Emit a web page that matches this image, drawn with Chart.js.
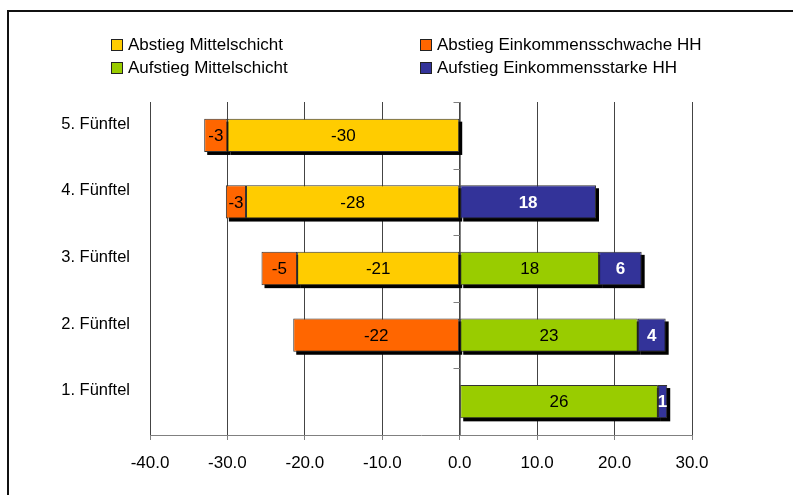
<!DOCTYPE html>
<html>
<head>
<meta charset="utf-8">
<script src="https://cdn.jsdelivr.net/npm/chart.js@4.4.1/dist/chart.umd.min.js"></script>
<style>
  html, body { margin: 0; padding: 0; background: #fff; }
  #wrap { position: relative; width: 793px; height: 495px; overflow: hidden; font-family: "Liberation Sans", Arial, sans-serif; }
  #frame { position: absolute; left: 7px; top: 10px; width: 900px; height: 600px; border-top: 2px solid #111; border-left: 2px solid #111; }
  canvas { position: absolute; left: 0; top: 0; }
  .leg { position: absolute; font-size: 17px; color: #000; line-height: 20px; white-space: nowrap; }
  .leg i { position: absolute; left: -17px; top: 4px; width: 10px; height: 10px; border: 1px solid #222; }
</style>
</head>
<body>
<div id="wrap">
  <div id="frame"></div>
  <canvas id="chart" width="793" height="495"></canvas>
  <div id="legend"></div>
</div>
<script>
const categories = ['5. Fünftel', '4. Fünftel', '3. Fünftel', '2. Fünftel', '1. Fünftel'];

// values per series (null = no bar)
const abstiegMitte = [-30.0, -27.6, -21.0, null, null];
const abstiegSchwach = [-3.0, -2.6, -4.6, -21.5, null];
const aufstiegMitte = [null, null, 18.0, 23.0, 25.6];
const aufstiegStark = [null, 17.6, 5.5, 3.6, 1.2];

const xTicks = [-40, -30, -20, -10, 0, 10, 20, 30];

const series = [
  { label: 'Abstieg Mittelschicht', data: abstiegMitte, color: '#FFCC00', text: '#000', bold: false },
  { label: 'Abstieg Einkommensschwache HH', data: abstiegSchwach, color: '#FF6600', text: '#000', bold: false },
  { label: 'Aufstieg Mittelschicht', data: aufstiegMitte, color: '#99CC00', text: '#000', bold: false },
  { label: 'Aufstieg Einkommensstarke HH', data: aufstiegStark, color: '#333399', text: '#fff', bold: true }
];

const FONT = '"Liberation Sans", Arial, sans-serif';

// legend: 2 columns, filled row by row
const legendPos = [
  { left: 128, top: 35 }, { left: 437, top: 35 },
  { left: 128, top: 58 }, { left: 437, top: 58 }
];
const legendEl = document.getElementById('legend');
series.forEach((s, k) => {
  const d = document.createElement('div');
  d.className = 'leg';
  d.style.left = legendPos[k].left + 'px';
  d.style.top = legendPos[k].top + 'px';
  d.innerHTML = '<i style="background:' + s.color + '"></i>' + s.label;
  legendEl.appendChild(d);
});

function roundLabel(v) {
  return Math.sign(v) * Math.round(Math.abs(v));
}

// zero axis, bar shadows, value labels
const barExtras = {
  id: 'barExtras',
  beforeDatasetsDraw(chart) {
    const { ctx, chartArea, scales } = chart;
    const x0 = Math.round(scales.x.getPixelForValue(0)) + 0.5;
    ctx.save();
    ctx.strokeStyle = '#808080';
    ctx.lineWidth = 1;
    ctx.beginPath();
    ctx.moveTo(x0, chartArea.top);
    ctx.lineTo(x0, chartArea.bottom);
    const n = categories.length;
    const step = (chartArea.bottom - chartArea.top) / n;
    for (let i = 0; i <= n; i++) {
      const yy = Math.round(chartArea.top + i * step) + 0.5;
      ctx.moveTo(x0 - 7, yy);
      ctx.lineTo(x0, yy);
    }
    ctx.stroke();

    // drop shadows under the bars
    ctx.fillStyle = '#000';
    chart.data.datasets.forEach((ds, di) => {
      chart.getDatasetMeta(di).data.forEach((el, i) => {
        if (ds.data[i] === null) return;
        const left = Math.min(el.x, el.base);
        const w = Math.abs(el.x - el.base);
        ctx.fillRect(left + 3, el.y - el.height / 2 + 3, w, el.height);
      });
    });
    ctx.restore();
  },
  afterDatasetsDraw(chart) {
    const { ctx } = chart;
    ctx.save();
    ctx.textAlign = 'center';
    ctx.textBaseline = 'middle';
    chart.data.datasets.forEach((ds, di) => {
      const meta = chart.getDatasetMeta(di);
      const s = series[di];
      ctx.fillStyle = s.text;
      ctx.font = (s.bold ? 'bold ' : '') + '17px ' + FONT;
      meta.data.forEach((el, i) => {
        const v = ds.data[i];
        if (v === null || v === undefined) return;
        const cx = (el.x + el.base) / 2;
        ctx.fillText(String(roundLabel(v)), cx, el.y + 1);
      });
    });
    ctx.restore();
  }
};

new Chart(document.getElementById('chart'), {
  type: 'bar',
  data: {
    labels: categories,
    datasets: series.map(s => ({
      label: s.label,
      data: s.data,
      backgroundColor: s.color,
      borderColor: '#333',
      borderWidth: 1,
      borderSkipped: false,
      barPercentage: 0.5,
      categoryPercentage: 1.0
    }))
  },
  options: {
    indexAxis: 'y',
    responsive: false,
    animation: false,
    layout: { padding: { left: 10, top: 102, right: 101, bottom: 0 } },
    plugins: {
      legend: { display: false },
      tooltip: { enabled: false }
    },
    scales: {
      x: {
        stacked: true,
        min: -40,
        max: 30,
        afterBuildTicks: s => { s.ticks = xTicks.map(v => ({ value: v })); },
        afterFit: s => { s.height = 60; },
        grid: { color: '#444', lineWidth: 1, tickLength: 5, tickColor: '#808080' },
        border: { display: true, color: '#808080' },
        ticks: {
          color: '#000',
          font: { family: FONT, size: 17 },
          padding: 13,
          callback: v => Number(v).toFixed(1)
        }
      },
      y: {
        stacked: true,
        afterFit: s => { s.width = 140; },
        grid: { display: false, drawTicks: false },
        border: { display: false },
        ticks: {
          color: '#000',
          font: { family: FONT, size: 16.5 },
          padding: 20,
          labelOffset: -11
        }
      }
    }
  },
  plugins: [barExtras]
});
</script>
</body>
</html>
